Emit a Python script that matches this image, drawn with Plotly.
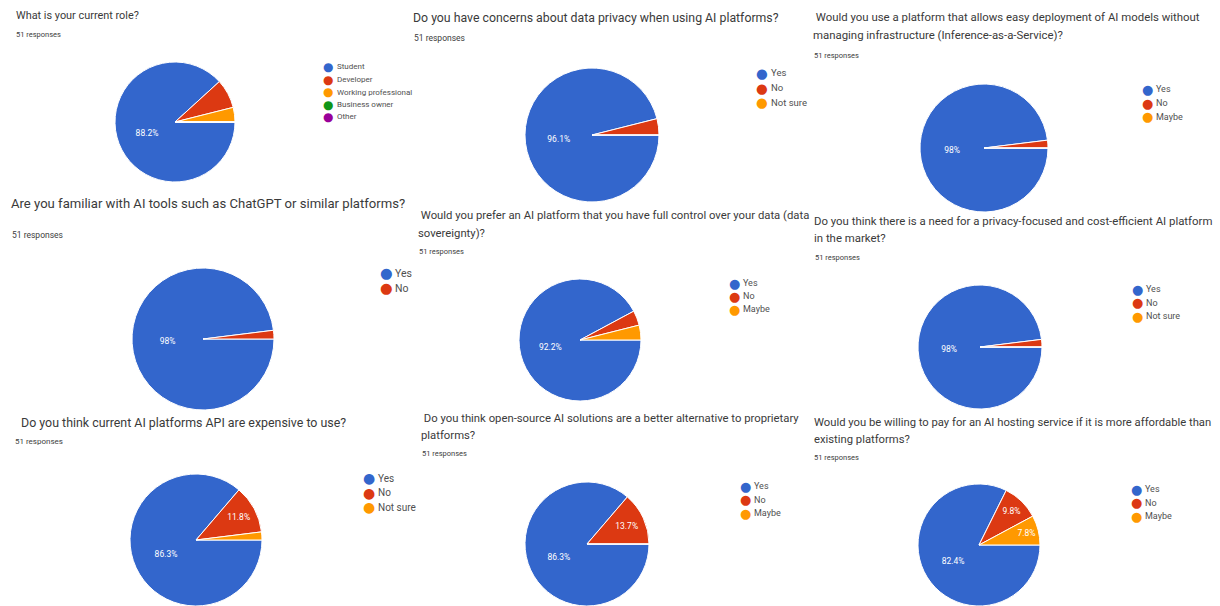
import plotly.graph_objects as go

W, H = 1220, 606

# ---------------- data ----------------
titles = [
    ["What is your current role?"],
    ["Do you have concerns about data privacy when using AI platforms?"],
    [" Would you use a platform that allows easy deployment of AI models without",
     "managing infrastructure (Inference-as-a-Service)?"],
    ["Are you familiar with AI tools such as ChatGPT or similar platforms?"],
    [" Would you prefer an AI platform that you have full control over your data (data",
     "sovereignty)?"],
    ["Do you think there is a need for a privacy-focused and cost-efficient AI platform",
     "in the market?"],
    [" Do you think current AI platforms API are expensive to use?"],
    [" Do you think open-source AI solutions are a better alternative to proprietary",
     "platforms?"],
    ["Would you be willing to pay for an AI hosting service if it is more affordable than",
     "existing platforms?"],
]
responses = [51] * 9

cats_role = ["Student", "Developer", "Working professional", "Business owner", "Other"]
vals_role = [45, 4, 2, 0, 0]
cats_privacy = ["Yes", "No", "Not sure"]
vals_privacy = [49, 2, 0]
cats_iaas = ["Yes", "No", "Maybe"]
vals_iaas = [50, 1, 0]
cats_familiar = ["Yes", "No"]
vals_familiar = [50, 1]
cats_sovereignty = ["Yes", "No", "Maybe"]
vals_sovereignty = [47, 2, 2]
cats_need = ["Yes", "No", "Not sure"]
vals_need = [50, 1, 0]
cats_expensive = ["Yes", "No", "Not sure"]
vals_expensive = [44, 6, 1]
cats_opensource = ["Yes", "No", "Maybe"]
vals_opensource = [44, 7, 0]
cats_pay = ["Yes", "No", "Maybe"]
vals_pay = [42, 5, 4]

categories = [cats_role, cats_privacy, cats_iaas, cats_familiar, cats_sovereignty,
              cats_need, cats_expensive, cats_opensource, cats_pay]
values = [vals_role, vals_privacy, vals_iaas, vals_familiar, vals_sovereignty,
          vals_need, vals_expensive, vals_opensource, vals_pay]
# slices whose percentage label is not printed on the pie
hidden_labels = [["Developer", "Working professional"], ["No"], ["No"], ["No"], ["No", "Maybe"],
                 ["No"], ["Not sure"], [], []]

colors = ["#3366cc", "#dc3912", "#ff9900", "#109618", "#990099"]

# ---------------- layout (pixel positions) ----------------
pies = [  # cx, cy, r
    (175, 122, 60), (592, 135, 67), (984, 148, 64),
    (203, 339, 71), (580, 340, 61), (980, 347, 62),
    (196, 540, 66), (587, 544, 62), (979, 545, 61),
]
title_pos = [  # (x of each line), (y of each line), font size
    ([14], [16], 10.9),
    ([411], [18], 12.3),
    ([811, 811], [17, 35], 11.4),
    ([9], [203], 13.1),
    ([416, 416], [215, 233], 11.3),
    ([812, 812], [221, 238], 11.4),
    ([16], [422], 12.4),
    ([419, 419], [418, 435], 11.3),
    ([812, 812], [422, 439], 11.25),
]
resp_pos = [(14, 34, 7.5), (412, 38, 8.5), (812, 55, 7.5), (10, 235, 8.5), (417, 251, 7.5),
            (813, 257, 7.5), (13, 442, 8), (420, 453, 7.5), (812, 457, 7.5)]
legend_pos = [  # dot x, first y, spacing, font size
    (328, 67, 12.5, 8), (762, 73, 14.5, 9.5), (1147, 89, 14, 9),
    (386, 273, 15, 10.5), (734, 283, 13, 9), (1137, 289, 13.5, 9),
    (369, 478, 14.5, 10), (745, 486, 13.5, 9), (1136, 489, 13.5, 9),
]

FONT = "Roboto, Arial, sans-serif"
fig = go.Figure()
annotations = []


def px(x):
    return x / W


def py(y):
    return 1 - y / H


for i in range(9):
    cats, vals = categories[i], values[i]
    total = sum(vals)
    texts = []
    for c, v in zip(cats, vals):
        if v == 0 or c in hidden_labels[i]:
            texts.append("")
        else:
            texts.append(f"{round(v / total * 100, 1):g}%")
    cx, cy, r = pies[i]
    dx = [max(0, px(cx - r)), min(1, px(cx + r))]
    dy = [max(0, py(cy + r)), min(1, py(cy - r))]
    fig.add_trace(go.Pie(
        labels=cats, values=vals, text=texts, textinfo="text",
        textposition="inside", insidetextorientation="horizontal",
        textfont=dict(color="white", size=8.5, family=FONT),
        marker=dict(colors=colors[:len(cats)], line=dict(color="white", width=1)),
        sort=False, direction="clockwise", rotation=90,
        domain=dict(x=dx, y=dy), showlegend=False, hoverinfo="label+percent",
    ))

    xs, ys, fs = title_pos[i]
    for line, x, y in zip(titles[i], xs, ys):
        annotations.append(dict(text=line, x=px(x), y=py(y), xref="paper", yref="paper",
                                xanchor="left", yanchor="middle", showarrow=False,
                                font=dict(size=fs, color="#3a3a3a", family=FONT)))
    rx, ry, rfs = resp_pos[i]
    annotations.append(dict(text=f"{responses[i]} responses", x=px(rx), y=py(ry),
                            xref="paper", yref="paper", xanchor="left", yanchor="middle",
                            showarrow=False, font=dict(size=rfs, color="#404040", family=FONT)))
    lx, ly, sp, lfs = legend_pos[i]
    for k, c in enumerate(cats):
        yk = ly + k * sp
        annotations.append(dict(text="●", x=px(lx), y=py(yk), xref="paper", yref="paper",
                                xanchor="center", yanchor="middle", showarrow=False,
                                font=dict(size=lfs + 4, color=colors[k], family="DejaVu Sans")))
        annotations.append(dict(text=c, x=px(lx + 7), y=py(yk), xref="paper", yref="paper",
                                xanchor="left", yanchor="middle", showarrow=False,
                                font=dict(size=lfs, color="#505050", family=FONT)))

fig.update_layout(
    width=W, height=H, margin=dict(l=0, r=0, t=0, b=0),
    paper_bgcolor="white", plot_bgcolor="white",
    annotations=annotations, showlegend=False,
    font=dict(family=FONT),
)

fig.write_html("out.html", config={"displayModeBar": False},
               post_script="document.body.style.margin='0';")
